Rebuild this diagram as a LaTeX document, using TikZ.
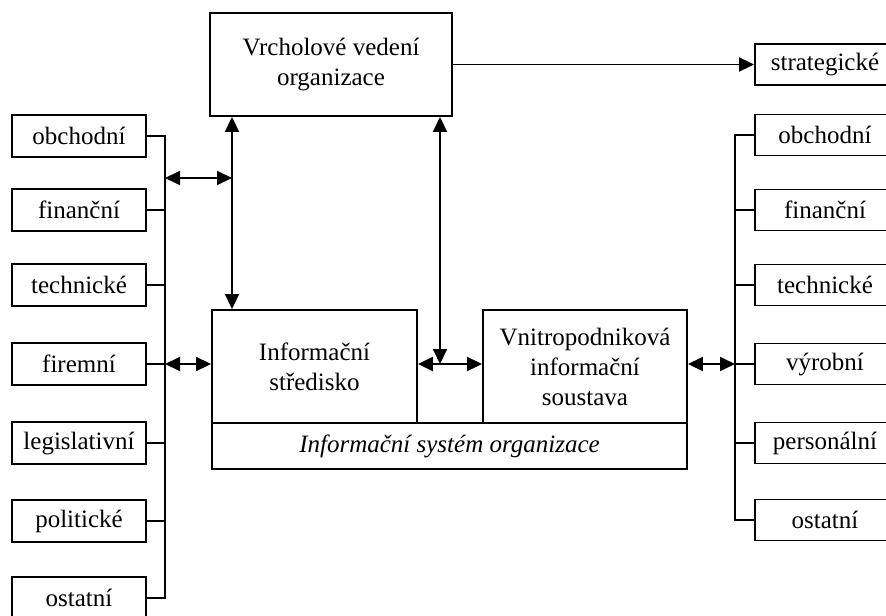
\documentclass[tikz,border=0pt]{standalone}
\usepackage{fontspec}
\setmainfont{Liberation Serif}
\usetikzlibrary{arrows.meta}
\begin{document}
\begin{tikzpicture}[x=0.5pt,y=-0.5pt,
  line width=0.95pt,
  box/.style={draw, line width=0.95pt, inner sep=0pt, align=center,
              font=\fontsize{12.5}{15}\selectfont},
  sbox/.style={box, minimum width=67pt, minimum height=21pt},
  rbox/.style={box, minimum width=70pt, minimum height=20.5pt},
  dbl/.style={{Triangle[length=7.5pt,width=7pt]}-{Triangle[length=7.5pt,width=7pt]}},
  sgl/.style={-{Triangle[length=7.5pt,width=7pt]}}]
\useasboundingbox (0,0) rectangle (886,615);

% main boxes
\node[box, minimum width=121pt, minimum height=51.5pt] (T) at (331,64.5) {Vrcholové vedení\\organizace};
\node[box, minimum width=102.5pt, minimum height=56.5pt] (I) at (314.5,366.5) {Informační\\středisko};
\node[box, minimum width=102pt, minimum height=56.5pt] (V) at (585,366.5) {Vnitropodniková\\informační\\soustava};
\node[box, minimum width=237.5pt, minimum height=23pt, font=\fontsize{12.5}{15}\selectfont\itshape] (Sys) at (449.5,446) {Informační systém organizace};
\node[rbox] (S) at (825,64.5) {strategické};

% left boxes
\node[sbox] (L1) at (79,136) {obchodní};
\node[sbox] (L2) at (79,210) {finanční};
\node[sbox] (L3) at (79,285) {technické};
\node[sbox] (L4) at (79,364) {firemní};
\node[sbox] (L5) at (79,443) {legislativní};
\node[sbox] (L6) at (79,521) {politické};
\node[sbox] (L7) at (79,598) {ostatní};

% right boxes
\node[rbox] (R1) at (825,135) {obchodní};
\node[rbox] (R2) at (825,210) {finanční};
\node[rbox] (R3) at (825,285) {technické};
\node[rbox] (R4) at (825,364) {výrobní};
\node[rbox] (R5) at (825,443) {personální};
\node[rbox] (R6) at (825,520) {ostatní};

% helper coordinates
\coordinate (lbus) at (165,0);
\coordinate (rbus) at (735,0);
\coordinate (vA) at (232,0);
\coordinate (vB) at (440,0);
\coordinate (hU) at (0,178);
\coordinate (hM) at (0,364);

% left bus
\draw (L1.east) -- (L1.east -| lbus) -- (L7.east -| lbus) -- (L7.east);
\foreach \i in {2,...,6} \draw (L\i.east) -- (L\i.east -| lbus);

% right bus
\draw (R1.west) -- (R1.west -| rbus) -- (R6.west -| rbus) -- (R6.west);
\foreach \i in {2,...,5} \draw (R\i.west) -- (R\i.west -| rbus);

% arrows
\draw[sgl] (T.east) -- (S.west);
\draw[dbl] (T.south -| vA) -- (I.north -| vA);
\draw[dbl] (T.south -| vB) -- (vB |- hM);
\draw[dbl] (I.east |- hM) -- (V.west |- hM);
\draw[dbl] (lbus |- hU) -- (vA |- hU);
\draw[dbl] (lbus |- hM) -- (I.west |- hM);
\draw[dbl] (V.east |- hM) -- (rbus |- hM);
\end{tikzpicture}
\end{document}
